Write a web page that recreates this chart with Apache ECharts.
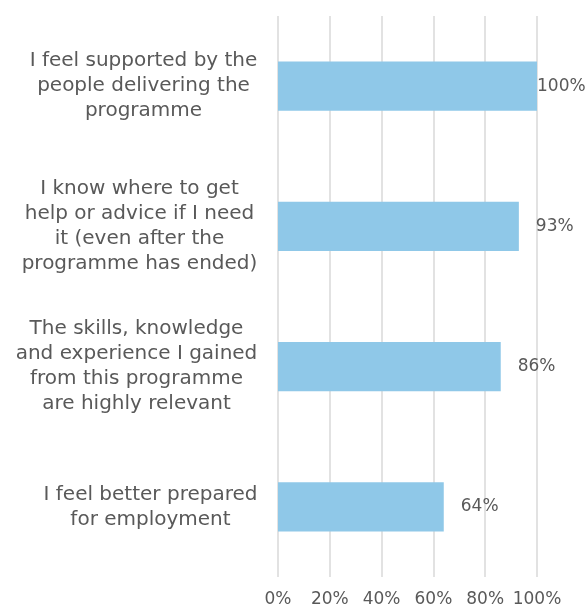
<!DOCTYPE html>
<html>
<head>
<meta charset="utf-8">
<script src="https://cdn.jsdelivr.net/npm/echarts@6/dist/echarts.min.js"></script>
<style>
  html, body { margin: 0; padding: 0; background: #ffffff; }
  #chart { width: 585px; height: 608px; }
</style>
</head>
<body>
<div id="chart"></div>
<script>
// Survey statements, listed bottom to top as the category axis draws them
const statements = [
  'I feel better prepared\nfor employment',
  'The skills, knowledge\nand experience I gained\nfrom this programme\nare highly relevant',
  'I know where to get\nhelp or advice if I need\nit (even after the\nprogramme has ended)',
  'I feel supported by the\npeople delivering the\nprogramme'
];
// Share of participants agreeing, in percent
const agreePct = [64, 86, 93, 100];
// Percentage ticks on the value axis
const pctTicks = [0, 20, 40, 60, 80, 100];

const textColor = '#595959';
const fontFamily = '"DejaVu Sans", Verdana, sans-serif';
const catFontSize = 20;

// Width of the longest line of each statement, so every block is
// right-aligned against the axis while its lines stay centred.
const measureCtx = document.createElement('canvas').getContext('2d');
measureCtx.font = catFontSize + 'px ' + fontFamily;
const blockWidths = statements.map(s =>
  Math.ceil(Math.max(...s.split('\n').map(line => measureCtx.measureText(line).width))) + 1
);
const catRich = {};
blockWidths.forEach((w, i) => {
  catRich['c' + i] = {
    width: w, align: 'center', color: textColor,
    fontFamily: fontFamily, fontSize: catFontSize, lineHeight: 25
  };
});

const chart = echarts.init(document.getElementById('chart'), null, { renderer: 'canvas' });

chart.setOption({
  animation: false,
  backgroundColor: '#ffffff',
  grid: { left: 278, right: 48, top: 16, bottom: 31, containLabel: false },
  xAxis: {
    type: 'value',
    min: pctTicks[0],
    max: pctTicks[pctTicks.length - 1],
    interval: pctTicks[1] - pctTicks[0],
    axisLine: { show: false },
    axisTick: { show: false },
    splitLine: { show: true, lineStyle: { color: '#d9d9d9', width: 1.5 } },
    axisLabel: {
      color: textColor, fontFamily: fontFamily, fontSize: 17, margin: 14,
      formatter: v => v + '%'
    }
  },
  yAxis: {
    type: 'category',
    data: statements,
    axisLine: { show: false },
    axisTick: { show: false },
    splitLine: { show: false },
    axisLabel: {
      align: 'right', margin: 20,
      formatter: (value, index) =>
        value.split('\n').map(line => '{c' + index + '|' + line + '}').join('\n'),
      rich: catRich
    }
  },
  series: [{
    type: 'bar',
    barWidth: '35%',
    itemStyle: { color: '#8fc8e8' },
    label: {
      show: true, position: 'right', distance: 17,
      color: textColor, fontFamily: fontFamily, fontSize: 17,
      formatter: p => p.value + '%'
    },
    // the full-length bar keeps its label tight against the bar end
    data: agreePct.map(v => v >= 100 ? { value: v, label: { distance: 0 } } : v)
  }]
});
</script>
</body>
</html>
